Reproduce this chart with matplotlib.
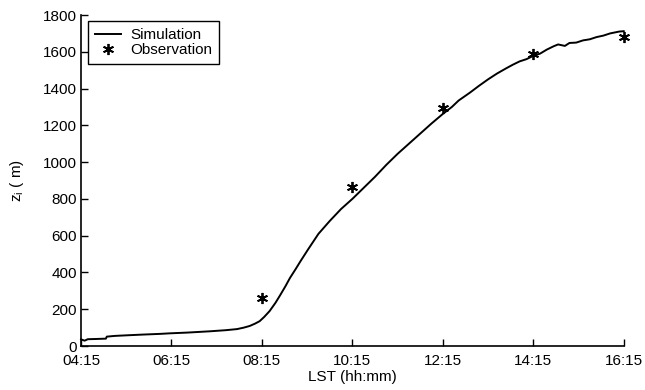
import matplotlib.pyplot as plt

plt.rcParams['font.family'] = ['Liberation Sans', 'DejaVu Sans']
plt.rcParams['mathtext.fontset'] = 'custom'
plt.rcParams['mathtext.rm'] = 'Liberation Sans'
plt.rcParams['mathtext.it'] = 'Liberation Sans'

# simulated mixing height (hours LST, metres)
sim_hour = [4.25, 4.33, 4.40, 4.55, 4.80, 4.82, 5.00, 5.25, 5.60, 6.00, 6.22,
            6.60, 7.10, 7.45, 7.70, 7.85, 7.98, 8.10, 8.20, 8.30, 8.42,
            8.55, 8.65, 8.77, 8.87, 9.00, 9.10, 9.27, 9.50, 9.75, 10.00,
            10.25, 10.50, 10.75, 11.00, 11.25, 11.50, 11.75, 12.00, 12.25,
            12.45, 12.60, 12.85, 13.05, 13.25, 13.45, 13.65, 13.80, 13.95,
            14.10, 14.25, 14.40, 14.55, 14.70, 14.80, 14.95, 15.05, 15.20,
            15.35, 15.50, 15.65, 15.80, 15.95, 16.05, 16.15, 16.25]
sim_zi = [36, 29, 37, 38, 40, 51, 55, 58, 62, 66, 69,
          73, 80, 86, 92, 100, 109, 122, 135, 158, 190,
          235, 275, 325, 370, 420, 460, 525, 610, 680, 745,
          800, 860, 920, 985, 1045, 1100, 1155, 1210, 1262,
          1300, 1335, 1378, 1415, 1450, 1482, 1510, 1530, 1548,
          1560, 1578, 1590, 1612, 1630, 1640, 1632, 1648, 1650,
          1662, 1668, 1680, 1688, 1700, 1705, 1710, 1712]

# observed mixing height
obs_hour = [8.25, 10.25, 12.25, 14.25, 16.25]
obs_zi = [260, 862, 1295, 1590, 1678]

tick_hours = [4.25, 6.25, 8.25, 10.25, 12.25, 14.25, 16.25]
tick_labels = ['04:15', '06:15', '08:15', '10:15', '12:15', '14:15', '16:15']

fig = plt.figure(figsize=(6.45, 3.9), dpi=100)
ax = fig.add_axes([0.1256, 0.1128, 0.8414, 0.8487])

ax.plot(sim_hour, sim_zi, color='black', lw=1.4, label='Simulation',
        clip_on=False)
ax.plot(obs_hour, obs_zi, linestyle='none', marker=(6, 2, 0), markersize=8,
        markeredgewidth=1.3, color='black', label='Observation', clip_on=False)

ax.set_xlim(4.25, 16.25)
ax.set_ylim(0, 1800)
ax.set_xticks(tick_hours)
ax.set_xticklabels(tick_labels)
ax.set_yticks(range(0, 1801, 200))
ax.tick_params(direction='in', length=5, width=1, labelsize=11, colors='black')
ax.tick_params(axis='x', pad=6)
ax.tick_params(axis='y', pad=3)
ax.spines['top'].set_visible(False)
ax.spines['right'].set_visible(False)
for s in ('left', 'bottom'):
    ax.spines[s].set_linewidth(1.2)

ax.set_xlabel('LST (hh:mm)', fontsize=11, labelpad=1)
ax.set_ylabel(r'z$_\mathregular{i}$ ( m)', fontsize=11, labelpad=12)

leg = ax.legend(loc='upper left', bbox_to_anchor=(0.013, 0.982), fontsize=11,
                frameon=True, fancybox=False, edgecolor='black', framealpha=1,
                borderpad=0.45, labelspacing=0.1, handlelength=1.7,
                handletextpad=0.6, borderaxespad=0)
leg.get_frame().set_linewidth(1.0)

fig.savefig('out.png', dpi=100)
